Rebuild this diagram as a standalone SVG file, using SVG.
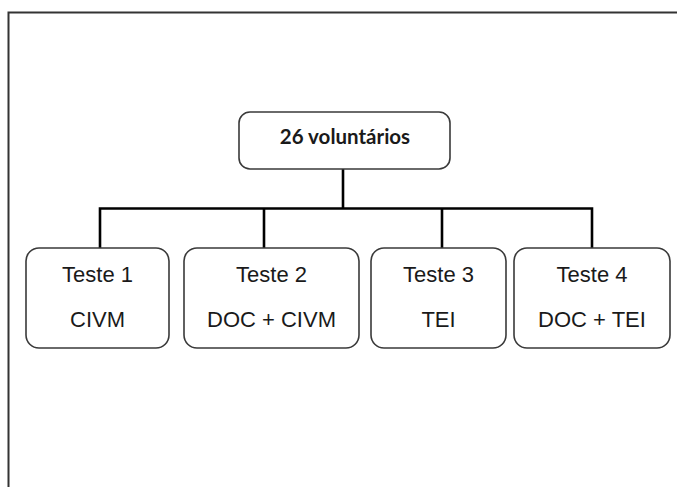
<svg xmlns="http://www.w3.org/2000/svg" width="677" height="487" viewBox="0 0 677 487">
<style>
.box{fill:#fff;stroke:#3a3a3a;stroke-width:1.6}
.t{font-family:"Liberation Sans",Arial,sans-serif;font-size:22px;fill:#1a1a1a;text-anchor:middle}
.b{font-family:Lato,"Open Sans",sans-serif;font-weight:bold;font-size:20.5px;fill:#1a1a1a;text-anchor:middle}
.c{fill:none;stroke:#000;stroke-width:2.6}
</style>
<rect width="677" height="487" fill="#fff"/>
<path d="M8.5 487 V12.5 H677" fill="none" stroke="#333" stroke-width="2"/>
<g id="connectors">
<path class="c" d="M343 169 V208.5"/>
<path class="c" d="M100 248 V208.5 H592 V248"/>
<path class="c" d="M264 208.5 V248"/>
<path class="c" d="M442 208.5 V248"/>
</g>
<g id="n0"><rect class="box" x="239" y="112" width="211" height="57" rx="11"/><text class="b" x="345" y="144">26 voluntários</text></g>
<g id="n1"><rect class="box" x="26" y="248" width="143" height="100" rx="13"/><text class="t" x="97.5" y="282">Teste 1</text><text class="t" x="97.5" y="327">CIVM</text></g>
<g id="n2"><rect class="box" x="184" y="248" width="175" height="100" rx="13"/><text class="t" x="271.5" y="282">Teste 2</text><text class="t" x="271.5" y="327">DOC + CIVM</text></g>
<g id="n3"><rect class="box" x="371" y="248" width="135" height="100" rx="13"/><text class="t" x="438.5" y="282">Teste 3</text><text class="t" x="438.5" y="327">TEI</text></g>
<g id="n4"><rect class="box" x="514" y="248" width="156" height="100" rx="13"/><text class="t" x="592" y="282">Teste 4</text><text class="t" x="592" y="327">DOC + TEI</text></g>
</svg>
